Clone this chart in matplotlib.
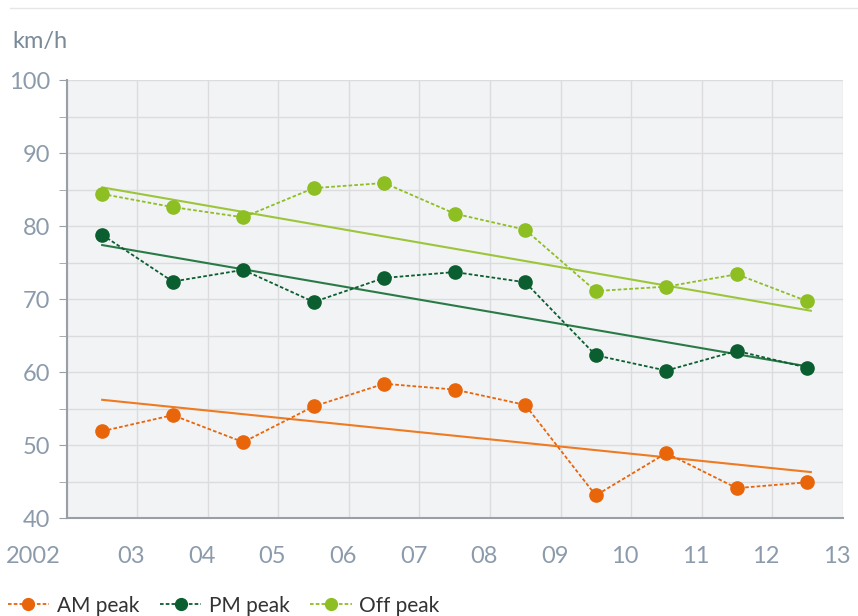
import numpy as np
import matplotlib
matplotlib.use("Agg")
import matplotlib.pyplot as plt
import matplotlib.transforms as mtransforms
from matplotlib.lines import Line2D

plt.rcParams['font.family'] = ['Lato', 'DejaVu Sans']

# data (financial years 2002-03 .. 2012-13)
year_labels = ['2002', '03', '04', '05', '06', '07', '08', '09', '10', '11', '12', '13']
am_peak = [51.9, 54.1, 50.4, 55.3, 58.4, 57.6, 55.5, 43.1, 48.9, 44.1, 44.9]
pm_peak = [78.8, 72.4, 74.0, 69.6, 72.9, 73.7, 72.3, 62.3, 60.2, 62.9, 60.6]
off_peak = [84.4, 82.6, 81.2, 85.2, 85.9, 81.7, 79.5, 71.1, 71.7, 73.4, 69.7]

# trend lines as drawn (first and last year)
trend_start = [56.2, 77.4, 85.3]
trend_end = [46.3, 60.7, 68.4]

names = ['AM peak', 'PM peak', 'Off peak']
colors = ['#E8650A', '#0B5E2F', '#8DBE22']
trend_colors = ['#EE7A22', '#2A7A48', '#9CC63A']

fig = plt.figure(figsize=(8.58, 6.16), dpi=100)
ax = fig.add_axes([0.078, 0.159, 0.904, 0.711])
ax.set_facecolor('#F2F3F5')

x = np.arange(len(am_peak)) + 0.5
for i, vals in enumerate([am_peak, pm_peak, off_peak]):
    ax.plot([x[0], x[-1] + 0.05], [trend_start[i], trend_end[i]],
            color=trend_colors[i], lw=1.5, zorder=2)
    ax.plot(x, vals, color=colors[i], lw=1.3, ls=(0, (2, 1.2)), marker='o',
            markersize=9.5, zorder=3)

ax.set_xlim(0, 11)
ax.set_ylim(40, 100)
ax.set_xticks(np.arange(12))
ax.set_xticklabels(year_labels)
ax.set_yticks(np.arange(40, 101, 10))
ax.set_yticks(np.arange(45, 100, 10), minor=True)
ax.grid(True, which='both', color='#DCDCDE', lw=1)
ax.set_axisbelow(True)

for s in ['top', 'right']:
    ax.spines[s].set_visible(False)
for s in ['left', 'bottom']:
    ax.spines[s].set_color('#9A9EA6')
    ax.spines[s].set_linewidth(1.5)

ax.tick_params(axis='y', which='both', length=6, color='#9A9EA6',
               labelsize=17, labelcolor='#8C9BAB', pad=6)
ax.tick_params(axis='x', length=0, labelsize=17, labelcolor='#8C9BAB', pad=20)
shift = mtransforms.ScaledTranslation(-0.06, 0, fig.dpi_scale_trans)
for lab in ax.get_xticklabels():
    lab.set_transform(lab.get_transform() + shift)
ax.get_xticklabels()[0].set_horizontalalignment('right')

fig.text(0.015, 0.932, 'km/h', fontsize=17, color='#7A8A99', va='center')
fig.add_artist(Line2D([0.012, 1.0], [0.987, 0.987], color='#E6E6E6', lw=1))

handles = [Line2D([], [], color=c, lw=1.3, ls=(0, (2, 1.2)), marker='o', markersize=8.5)
           for c in colors]
fig.legend(handles, names, loc='lower left',
           bbox_to_anchor=(-0.013, -0.03), ncol=3, frameon=False, fontsize=15,
           handlelength=2.0, handletextpad=0.35, columnspacing=1.0,
           labelcolor='#333333')

fig.savefig('out.png', dpi=100)
